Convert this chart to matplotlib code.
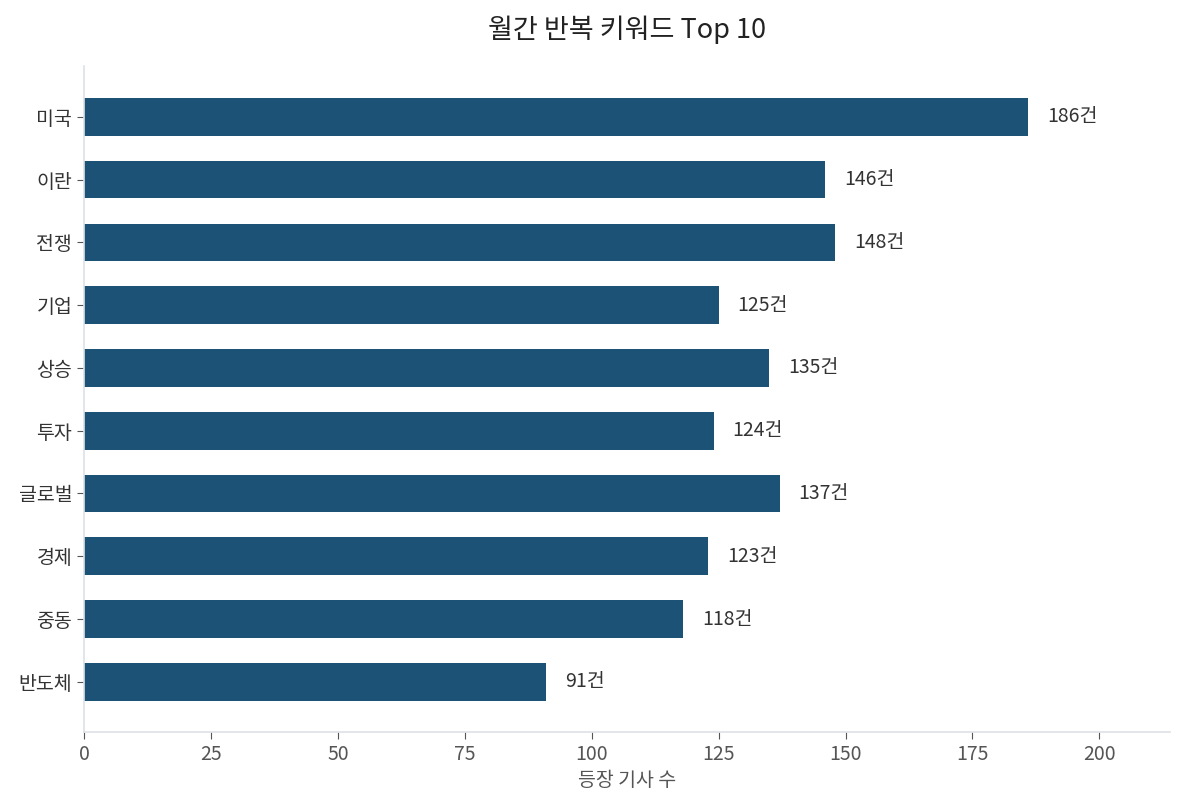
import matplotlib
matplotlib.use("Agg")
import matplotlib.pyplot as plt

plt.rcParams['font.family'] = ['Noto Sans CJK KR', 'DejaVu Sans']

keywords = ["미국", "이란", "전쟁", "기업", "상승", "투자", "글로벌", "경제", "중동", "반도체"]
counts = [186, 146, 148, 125, 135, 124, 137, 123, 118, 91]
title = "월간 반복 키워드 Top 10"
xlabel = "등장 기사 수"
bar_color = "#1b5276"

fig = plt.figure(figsize=(11.85, 8.09), dpi=100)
ax = fig.add_axes([84/1185, 1 - 732/809, (1170-84)/1185, (732-66)/809])

y = list(range(len(keywords)))
ax.barh(y, counts, height=0.6, color=bar_color)
ax.set_yticks(y)
ax.set_yticklabels(keywords)
ax.set_ylim(len(keywords) - 0.2, -0.81)
ax.set_xlim(0, max(counts) * 1.15)

off = max(counts) * 0.02
for yi, v in zip(y, counts):
    ax.text(v + off, yi, f"{v}건", va="center", ha="left", fontsize=14, color="#333333")

ax.set_title(title, fontsize=19.5, color="#222222", pad=20)
ax.set_xlabel(xlabel, fontsize=14, color="#555555", labelpad=4)
for s in ["top", "right"]:
    ax.spines[s].set_visible(False)
for s in ["left", "bottom"]:
    ax.spines[s].set_color("#dde1e6")
    ax.spines[s].set_linewidth(1.2)
ax.tick_params(axis="both", colors="#555555", labelsize=14, length=5)
ax.tick_params(axis="y", labelcolor="#333333")

fig.savefig("out.png", dpi=100)
